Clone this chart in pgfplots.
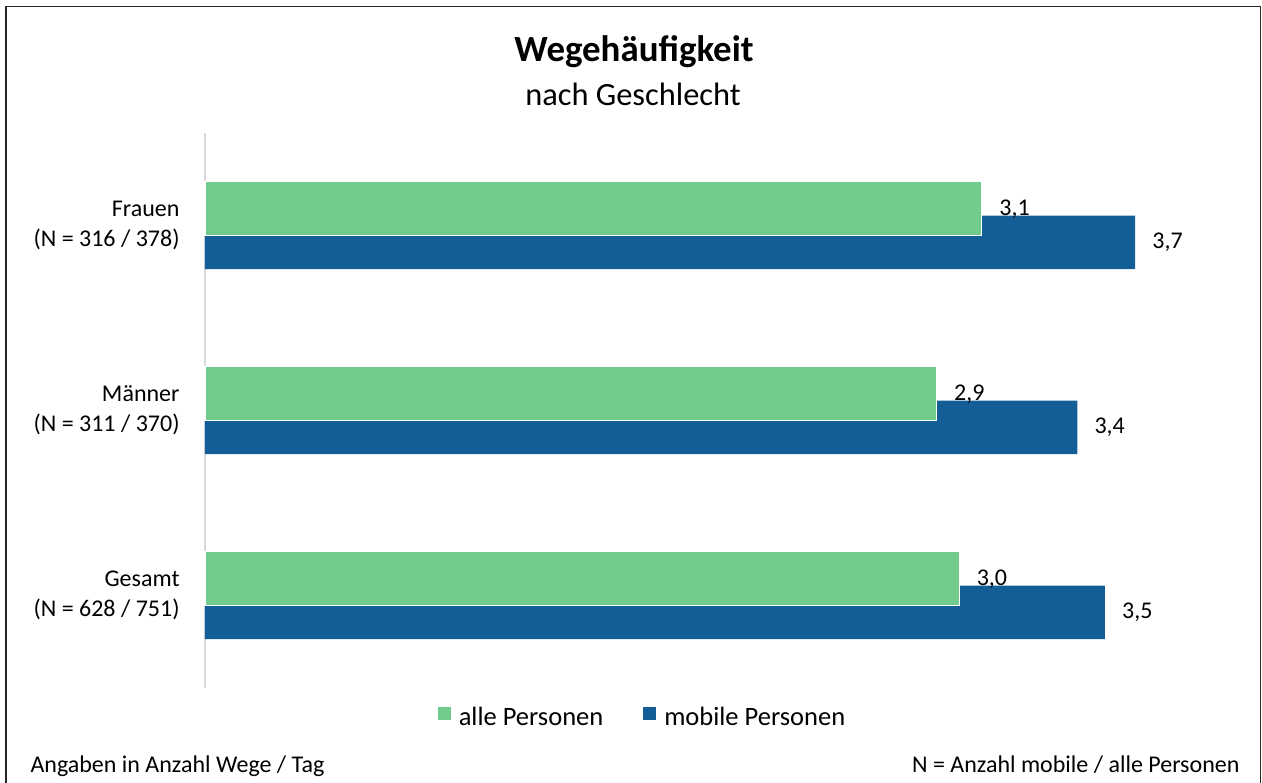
\documentclass[border=0pt]{standalone}
\usepackage{pgfplots}
\pgfplotsset{compat=1.18}
\usepackage{pgfplotstable}
\usepackage{fontspec}
\setmainfont{Carlito}

\definecolor{gruen}{HTML}{71CB8C}
\definecolor{blau}{HTML}{135E96}
\definecolor{achse}{HTML}{D9D9D9}

% pos = category position (0 Gesamt, 1 Maenner, 2 Frauen)
\pgfplotstableread{
pos alle mobile la lm
0   3.00 3.58  3,0 3,5
1   2.91 3.47  2,9 3,4
2   3.09 3.70  3,1 3,7
}\wege

\begin{document}
\begin{tikzpicture}
\useasboundingbox (0pt,0pt) rectangle (1262pt,783pt);
% outer frame
\draw[black!85, line width=1.5pt] (6pt,0pt) -- (6pt,776.3pt) -- (1260.5pt,776.3pt) -- (1260.5pt,0pt);

\node[anchor=base, font=\bfseries\fontsize{36.9}{40}\selectfont] at (634pt,721.3pt) {Wegehäufigkeit};
\node[anchor=base, font=\fontsize{32.4}{36}\selectfont] at (633pt,677pt) {nach Geschlecht};

\begin{axis}[
    at={(205pt,95pt)}, anchor=south west,
    scale only axis,
    width=1030.7pt, height=555pt,
    xmin=0, xmax=4.1,
    ymin=-0.5, ymax=2.5,
    axis x line=none,
    axis y line=left,
    y axis line style={-, draw=achse, line width=2pt},
    ytick={0,1,2},
    yticklabels={{Gesamt\\(N = 628 / 751)},{Männer\\(N = 311 / 370)},{Frauen\\(N = 316 / 378)}},
    ytick style={draw=none},
    yticklabel style={align=right, font=\fontsize{24}{30}\selectfont, inner sep=0pt, xshift=-21pt},
    xbar,
    bar width=0.289,
    point meta=explicit symbolic,
    nodes near coords,
    every node near coord/.style={anchor=west, font=\fontsize{24}{28}\selectfont, inner sep=0pt, xshift=17pt, text=black},
    clip=false,
    legend columns=2,
    legend image code/.code={\fill[#1, draw=none] (0pt,-3pt) rectangle (13pt,10pt);},
    legend style={draw=none, fill=none, at={(0.4235,-0.0529)}, anchor=center,
        font=\fontsize{26.5}{30}\selectfont, nodes={inner sep=0pt},
        column sep=8pt, /tikz/every even column/.append style={column sep=40pt}},
]
\addplot[fill=blau, draw=none, bar shift=-0.0914, forget plot,
    every node near coord/.append style={yshift=-16.9pt}]
    table[x=mobile, y=pos, meta=lm] {\wege};
\addplot[fill=gruen, draw=white, line width=1.2pt, bar shift=0.0914,
    every node near coord/.append style={yshift=16.6pt}]
    table[x=alle, y=pos, meta=la] {\wege};
\addlegendentry{alle Personen}
\addlegendimage{fill=blau, draw=none}
\addlegendentry{mobile Personen}
\end{axis}

\node[anchor=base west, font=\fontsize{24}{28}\selectfont] at (27pt,10pt) {Angaben in Anzahl Wege / Tag};
\node[anchor=base east, font=\fontsize{24}{28}\selectfont] at (1243pt,10pt) {N = Anzahl mobile / alle Personen};
\end{tikzpicture}
\end{document}
